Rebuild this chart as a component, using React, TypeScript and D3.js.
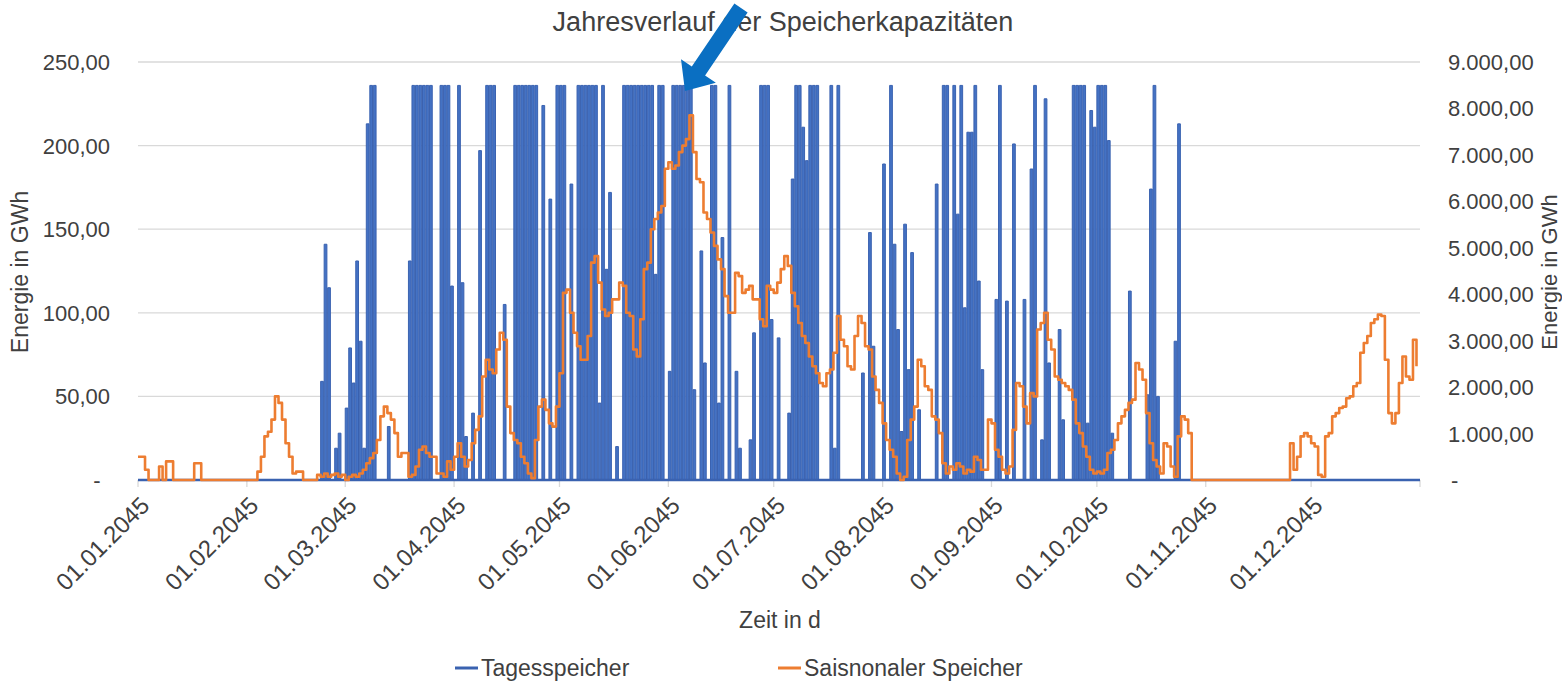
import React, { useEffect, useRef } from "react";
import * as d3 from "d3";

const chartTitle = "Jahresverlauf der Speicherkapazitäten";
const monthLabels = [
  "01.01.2045", "01.02.2045", "01.03.2045", "01.04.2045", "01.05.2045", "01.06.2045",
  "01.07.2045", "01.08.2045", "01.09.2045", "01.10.2045", "01.11.2045", "01.12.2045",
];
const leftTicks = [0, 50, 100, 150, 200, 250];
const rightTicks = [0, 1000, 2000, 3000, 4000, 5000, 6000, 7000, 8000, 9000];
const seriesNames = ["Tagesspeicher", "Saisnonaler Speicher"];

// Tagesspeicher (left axis, GWh), one value per day of 2045
const tagesspeicher = [
  0, 0, 0, 0, 0, 0, 0, 0, 0, 0,
  0, 0, 0, 0, 0, 0, 0, 0, 0, 0,
  0, 0, 0, 0, 0, 0, 0, 0, 0, 0,
  0, 0, 0, 0, 0, 0, 0, 0, 0, 0,
  0, 0, 0, 0, 0, 0, 0, 0, 0, 0,
  0, 0, 59, 141, 115, 0, 19, 28, 0, 43,
  79, 58, 131, 83, 19, 213, 236, 236, 0, 0,
  0, 32, 0, 0, 0, 0, 0, 131, 236, 236,
  236, 236, 236, 236, 0, 0, 236, 236, 236, 116,
  0, 236, 118, 26, 0, 40, 0, 197, 0, 236,
  236, 236, 0, 0, 105, 0, 0, 236, 236, 236,
  236, 236, 236, 236, 0, 224, 0, 168, 0, 236,
  236, 236, 0, 177, 0, 236, 236, 236, 236, 236,
  236, 46, 236, 126, 172, 0, 20, 0, 236, 236,
  236, 236, 236, 236, 236, 236, 236, 123, 236, 236,
  0, 65, 236, 236, 236, 236, 236, 236, 54, 0,
  137, 70, 0, 236, 236, 46, 145, 0, 236, 0,
  65, 19, 0, 0, 24, 88, 0, 236, 236, 236,
  96, 0, 85, 0, 0, 40, 180, 236, 236, 211,
  191, 236, 236, 236, 0, 0, 0, 236, 19, 236,
  0, 0, 0, 0, 0, 0, 64, 0, 148, 80,
  0, 0, 189, 0, 236, 141, 90, 29, 153, 66,
  136, 0, 42, 0, 0, 0, 0, 177, 0, 236,
  236, 0, 236, 159, 236, 103, 208, 208, 236, 119,
  66, 0, 0, 0, 108, 236, 0, 107, 0, 201,
  0, 0, 108, 0, 186, 236, 0, 24, 228, 70,
  0, 0, 90, 36, 0, 0, 236, 236, 236, 236,
  34, 221, 211, 236, 236, 236, 203, 28, 0, 0,
  0, 0, 113, 0, 0, 0, 0, 51, 174, 236,
  50, 0, 0, 0, 0, 83, 213, 0, 0, 0,
  0, 0, 0, 0, 0, 0, 0, 0, 0, 0,
  0, 0, 0, 0, 0, 0, 0, 0, 0, 0,
  0, 0, 0, 0, 0, 0, 0, 0, 0, 0,
  0, 0, 0, 0, 0, 0, 0, 0, 0, 0,
  0, 0, 0, 0, 0, 0, 0, 0, 0, 0,
  0, 0, 0, 0, 0, 0, 0, 0, 0, 0,
  0, 0, 0, 0, 0,
];

// Saisonaler Speicher (right axis, GWh), one value per day of 2045
const saisonalerSpeicher = [
  500, 500, 220, 0, 0, 0, 290, 0, 400, 400,
  0, 0, 0, 0, 0, 0, 360, 360, 0, 0,
  0, 0, 0, 0, 0, 0, 0, 0, 0, 0,
  0, 0, 0, 0, 180, 500, 940, 1040, 1300, 1800,
  1660, 1300, 790, 500, 140, 180, 180, 0, 0, 0,
  0, 110, 70, 140, 70, 110, 140, 70, 110, 0,
  70, 110, 70, 140, 220, 360, 470, 580, 860, 1370,
  1580, 1440, 1300, 1010, 500, 580, 580, 70, 110, 290,
  650, 720, 580, 500, 500, 140, 140, 70, 400, 220,
  500, 790, 500, 290, 430, 790, 1080, 1370, 2230, 2590,
  2380, 2300, 2810, 3170, 3020, 1580, 1010, 860, 790, 500,
  360, 140, 40, 860, 1580, 1730, 1510, 1220, 1150, 1580,
  2300, 4030, 4100, 3600, 3170, 2880, 2590, 2590, 3100, 4680,
  4820, 4250, 3670, 3530, 3600, 3890, 3890, 4250, 4180, 3600,
  3530, 2810, 2660, 3460, 4540, 4680, 5400, 5620, 5760, 5900,
  6700, 6840, 6700, 6770, 7060, 7200, 7340, 7850, 7060, 6480,
  6410, 5760, 5620, 5330, 5040, 4750, 4540, 3960, 3600, 3600,
  4460, 4390, 4030, 4100, 4180, 3890, 3890, 3460, 3310, 4180,
  4100, 4030, 4250, 4540, 4820, 4610, 4030, 3740, 3380, 3100,
  2950, 2660, 2450, 2300, 2090, 2020, 2300, 2380, 2740, 3530,
  3020, 2880, 2450, 2380, 3100, 3530, 3380, 2880, 2810, 2230,
  1940, 1660, 1220, 860, 650, 500, 140, 0, 70, 860,
  1300, 1580, 2590, 2450, 2020, 1940, 1370, 1300, 1010, 360,
  140, 290, 220, 360, 290, 140, 220, 180, 500, 430,
  220, 220, 1300, 1220, 650, 500, 220, 140, 290, 1080,
  2090, 2020, 1580, 1220, 1870, 1800, 3240, 3380, 3600, 3020,
  2810, 2230, 2160, 2090, 2020, 1940, 1730, 1220, 1010, 720,
  500, 220, 140, 180, 140, 220, 580, 650, 860, 1220,
  1370, 1510, 1660, 1730, 2520, 2380, 2160, 1440, 790, 430,
  290, 140, 790, 720, 290, 70, 940, 1370, 1300, 1010,
  0, 0, 0, 0, 0, 0, 0, 0, 0, 0,
  0, 0, 0, 0, 0, 0, 0, 0, 0, 0,
  0, 0, 0, 0, 0, 0, 0, 0, 790, 220,
  500, 940, 1010, 940, 790, 720, 110, 70, 940, 1010,
  1370, 1440, 1550, 1580, 1760, 1800, 2020, 2090, 2740, 2950,
  3100, 3380, 3460, 3560, 3530, 2590, 1440, 1220, 1440, 2090,
  2660, 2230, 2160, 3020, 2450,
];

const W = 1562;
const H = 685;
const FONT = "'Liberation Sans', Arial, sans-serif";
const TEXT = "#404040";
const BLUE = "#4472C4";
const ORANGE = "#ED7D31";

export default function App() {
  const ref = useRef<SVGSVGElement>(null);

  useEffect(() => {
    const svg = d3.select(ref.current);
    svg.selectAll("*").remove();

    const t0 = Date.UTC(2045, 0, 1);
    const DAY = 86400000;
    const dayDate = (i: number) => new Date(t0 + i * DAY);
    const x = d3.scaleUtc().domain([new Date(t0), new Date(Date.UTC(2046, 0, 1))]).range([138, 1420]);
    const yL = d3.scaleLinear().domain([0, 250]).range([480, 62]);
    const yR = d3.scaleLinear().domain([0, 9000]).range([480, 62]);

    const de = d3.formatLocale({ decimal: ",", thousands: ".", grouping: [3], currency: ["", " €"] });
    const fmt = de.format(",.2f");

    svg.append("rect").attr("width", W).attr("height", H).attr("fill", "#fff");

    // gridlines
    svg.append("g").selectAll("line").data(leftTicks).join("line")
      .attr("x1", x.range()[0]).attr("x2", x.range()[1])
      .attr("y1", (d) => yL(d)).attr("y2", (d) => yL(d))
      .attr("stroke", "#D9D9D9").attr("stroke-width", 1.3);

    // x tick marks
    const monthDates = d3.range(13).map((m) => new Date(Date.UTC(2045, m, 1)));
    svg.append("g").selectAll("line").data(monthDates).join("line")
      .attr("x1", (d) => x(d)).attr("x2", (d) => x(d))
      .attr("y1", yL(0)).attr("y2", yL(0) + 7)
      .attr("stroke", "#D9D9D9").attr("stroke-width", 1.3);

    // left tick labels
    svg.append("g").selectAll("text").data(leftTicks).join("text")
      .attr("x", (d) => (d === 0 ? 97 : 110))
      .attr("y", (d) => yL(d) + 8)
      .attr("text-anchor", (d) => (d === 0 ? "middle" : "end"))
      .attr("font-family", FONT).attr("font-size", 22).attr("fill", TEXT)
      .text((d) => (d === 0 ? "-" : fmt(d)));

    // right tick labels
    svg.append("g").selectAll("text").data(rightTicks).join("text")
      .attr("x", (d) => (d === 0 ? 1451 : 1448))
      .attr("y", (d) => yR(d) + 8)
      .attr("text-anchor", "start")
      .attr("font-family", FONT).attr("font-size", 22).attr("fill", TEXT)
      .text((d) => (d === 0 ? "-" : fmt(d)));

    // x tick labels
    svg.append("g").selectAll("text").data(monthLabels).join("text")
      .attr("transform", (_d, i) => `translate(${x(monthDates[i]) + 13},${yL(0) + 27}) rotate(-45)`)
      .attr("text-anchor", "end")
      .attr("font-family", FONT).attr("font-size", 24).attr("fill", TEXT)
      .text((d) => d);

    // Tagesspeicher bars (daily) as an area
    const pts: [number, number][] = [];
    tagesspeicher.forEach((v, i) => {
      if (v > 0) {
        pts.push([i, 0], [i, v], [i + 0.78, v], [i + 0.78, 0]);
      }
    });
    const area = d3.area<[number, number]>()
      .x((p) => x(dayDate(p[0])))
      .y0(yL(0))
      .y1((p) => yL(p[1]));
    const line = d3.line<[number, number]>()
      .x((p) => x(dayDate(p[0])))
      .y((p) => yL(p[1]));
    svg.append("path").attr("d", area(pts) || "").attr("fill", BLUE);
    svg.append("path").attr("d", line(pts) || "").attr("fill", "none")
      .attr("stroke", "#3A62B0").attr("stroke-width", 1);
    // baseline
    svg.append("path")
      .attr("d", line([[0, 0], [365, 0]]) || "")
      .attr("stroke", "#3A62B0").attr("stroke-width", 2.5).attr("fill", "none");

    // Saisonaler Speicher
    const oLine = d3.line<number>()
      .x((_v, i) => x(dayDate(i)))
      .y((v) => yR(v))
      .curve(d3.curveStepAfter);
    svg.append("path").attr("d", oLine(saisonalerSpeicher) || "")
      .attr("fill", "none").attr("stroke", ORANGE).attr("stroke-width", 2.6)
      .attr("stroke-linejoin", "round");

    // title
    svg.append("text").attr("x", 783).attr("y", 31).attr("text-anchor", "middle")
      .attr("font-family", FONT).attr("font-size", 27).attr("fill", TEXT).text(chartTitle);

    // axis titles
    svg.append("text").attr("transform", "translate(28,272) rotate(-90)")
      .attr("text-anchor", "middle").attr("font-family", FONT).attr("font-size", 23)
      .attr("fill", TEXT).text("Energie in GWh");
    svg.append("text").attr("transform", "translate(1557,272) rotate(-90)")
      .attr("text-anchor", "middle").attr("font-family", FONT).attr("font-size", 22)
      .attr("fill", TEXT).text("Energie in GWh");
    svg.append("text").attr("x", 780).attr("y", 628).attr("text-anchor", "middle")
      .attr("font-family", FONT).attr("font-size", 23).attr("fill", TEXT).text("Zeit in d");

    // legend
    const legend = [
      { name: seriesNames[0], color: "#3A62B0", x0: 455 },
      { name: seriesNames[1], color: ORANGE, x0: 778 },
    ];
    const lg = svg.append("g").selectAll("g").data(legend).join("g");
    lg.append("line").attr("x1", (d) => d.x0).attr("x2", (d) => d.x0 + 23)
      .attr("y1", 668).attr("y2", 668).attr("stroke", (d) => d.color).attr("stroke-width", 3);
    lg.append("text").attr("x", (d) => d.x0 + 26).attr("y", 676)
      .attr("font-family", FONT).attr("font-size", 23).attr("fill", TEXT).text((d) => d.name);

    // annotation arrow
    const tip: [number, number] = [685, 91];
    const u: [number, number] = [0.56, -0.83];
    const n: [number, number] = [0.83, 0.56];
    const at = (a: number, b: number): [number, number] => [tip[0] + a * u[0] + b * n[0], tip[1] + a * u[1] + b * n[1]];
    const arrowPts = [at(0, 0), at(24, 21), at(24, 8), at(100, 8), at(100, -8), at(24, -8), at(24, -21)];
    svg.append("path").attr("d", d3.line()(arrowPts) + "Z").attr("fill", "#0A6FC2");
  }, []);

  return (
    <svg ref={ref} width={W} height={H} style={{ position: "absolute", left: 0, top: 0 }} />
  );
}
